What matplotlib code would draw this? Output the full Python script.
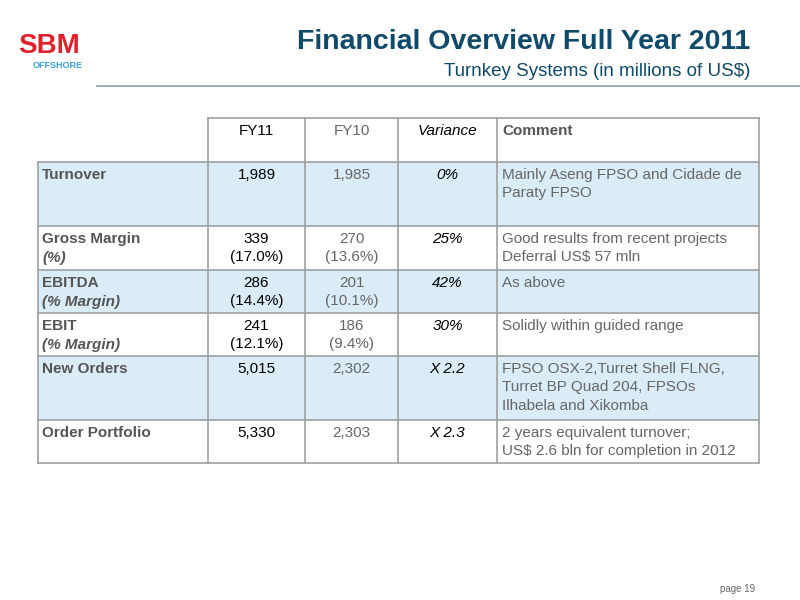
import matplotlib
matplotlib.use("Agg")
import matplotlib.pyplot as plt
from matplotlib.patches import Rectangle

plt.rcParams['font.family'] = ['Liberation Sans', 'DejaVu Sans']

headers = ["FY11", "FY10", "Variance", "Comment"]
labels = ["Turnover", "Gross Margin", "EBITDA", "EBIT", "New Orders", "Order Portfolio"]
sublabels = ["", "(%)", "(% Margin)", "(% Margin)", "", ""]
fy11 = ["1,989", "339\n(17.0%)", "286\n(14.4%)", "241\n(12.1%)", "5,015", "5,330"]
fy10 = ["1,985", "270\n(13.6%)", "201\n(10.1%)", "186\n(9.4%)", "2,302", "2,303"]
variance = ["0%", "25%", "42%", "30%", "X 2.2", "X 2.3"]
comments = ["Mainly Aseng FPSO and Cidade de\nParaty FPSO",
            "Good results from recent projects\nDeferral US$ 57 mln",
            "As above",
            "Solidly within guided range",
            "FPSO OSX-2,Turret Shell FLNG,\nTurret BP Quad 204, FPSOs\nIlhabela and Xikomba",
            "2 years equivalent turnover;\nUS$ 2.6 bln for completion in 2012"]

fig = plt.figure(figsize=(8, 6), dpi=100)
ax = fig.add_axes([0, 0, 1, 1])
ax.set_xlim(0, 800); ax.set_ylim(600, 0); ax.axis("off")

# logo
ax.text(49, 46, "SBM", fontsize=20, fontweight="bold", color="#e0202a", ha="center", va="center")
ax.text(58, 66, "OFFSHORE", fontsize=6.5, fontweight="bold", color="#3aa0d8", ha="center", va="center")

ax.text(750, 42, "Financial Overview Full Year 2011", fontsize=20.5, fontweight="bold",
        color="#104a6a", ha="right", va="center")
ax.text(750, 71, "Turnkey Systems (in millions of US$)", fontsize=13.5, color="#104a6a",
        ha="right", va="center")
ax.plot([97, 800], [86, 86], color="#8aa0ad", lw=1.2)

xs = [38, 208, 305, 398, 497, 759]
ys = [118, 162, 226, 270, 313, 356, 420, 463]
blue = "#d9ecf7"
grid = "#a0a0a0"

for i in range(6):
    if i % 2 == 0:
        ax.add_patch(Rectangle((xs[0], ys[i+1]), xs[-1]-xs[0], ys[i+2]-ys[i+1],
                               facecolor=blue, edgecolor="none"))
for y in ys[1:]:
    ax.plot([xs[0], xs[-1]], [y, y], color=grid, lw=1.2)
ax.plot([xs[1], xs[-1]], [ys[0], ys[0]], color=grid, lw=1.2)
ax.plot([xs[0], xs[0]], [ys[1], ys[-1]], color=grid, lw=1.2)
for x in xs[1:]:
    ax.plot([x, x], [ys[0], ys[-1]], color=grid, lw=1.2)

fs = 11
hstyle = [("black", "normal", "normal"), ("#666666", "normal", "normal"),
          ("black", "normal", "italic"), ("#555555", "bold", "normal")]
for j, h in enumerate(headers):
    c, w, s = hstyle[j]
    if j < 3:
        ax.text((xs[j+1]+xs[j+2])/2, 124, h, fontsize=fs, color=c, fontweight=w, fontstyle=s,
                ha="center", va="top")
    else:
        ax.text(xs[4]+5, 124, h, fontsize=fs, color=c, fontweight=w, ha="left", va="top")

for i in range(6):
    top = ys[i+1] + 6
    ax.text(42, top, labels[i], fontsize=fs, fontweight="bold", color="#555555", va="top")
    if sublabels[i]:
        ax.text(42, top + 19, sublabels[i], fontsize=fs, fontweight="bold", fontstyle="italic",
                color="#555555", va="top")
    ax.text((xs[1]+xs[2])/2, top, fy11[i], fontsize=fs, color="black", ha="center", va="top",
            linespacing=1.4)
    ax.text((xs[2]+xs[3])/2, top, fy10[i], fontsize=fs, color="#666666", ha="center", va="top",
            linespacing=1.4)
    ax.text((xs[3]+xs[4])/2, top, variance[i], fontsize=fs, color="black", fontstyle="italic",
            ha="center", va="top")
    ax.text(xs[4]+5, top, comments[i], fontsize=fs, color="#666666", ha="left", va="top",
            linespacing=1.4)

ax.text(755, 589, "page 19", fontsize=7, color="#666666", ha="right", va="center")

fig.savefig("out.png", dpi=100)
